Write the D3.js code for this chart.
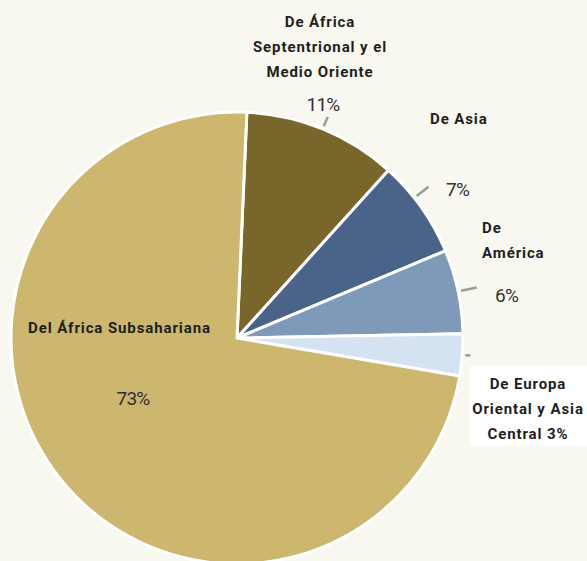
<!DOCTYPE html>
<meta charset="utf-8">
<head>
    <style>
        body {margin: 0; background: #f8f7f0;}
        svg {display: block;}
        .lbl {font-family: Roboto, "Liberation Sans", sans-serif; font-weight: bold; font-size: 15px; fill: #1e1e1e; letter-spacing: 0.9px;}
        .pct {font-family: Roboto, "Liberation Sans", sans-serif; font-weight: 400; font-size: 19px; fill: #303030; letter-spacing: -0.8px;}
        .lead {stroke: #9a9a9a; stroke-width: 2.5;}
    </style>
    <script src="https://d3js.org/d3.v7.min.js"></script>
</head>
<body>
<script>
    // data, clockwise from near the top
    var regions = ["De África Septentrional y el Medio Oriente", "De Asia", "De América", "De Europa Oriental y Asia Central", "Del África Subsahariana"];
    var shares = [11, 7, 6, 3, 73];
    var colors = ["#79662a", "#4a6489", "#7f99b8", "#d4e2f2", "#cdb76e"];

    var width = 587, height = 561,
        cx = 237, cy = 338, r = 226;

    var svg = d3.select("body").append("svg")
        .attr("width", width)
        .attr("height", height);

    var start = 2.5 * Math.PI / 180;
    var pie = d3.pie().sort(null).value(function(d) {return d})
        .startAngle(start).endAngle(start + 2 * Math.PI);
    var arcs = pie(shares);
    var arc = d3.arc().innerRadius(0).outerRadius(r);

    var g = svg.append("g").attr("transform", "translate(" + cx + "," + cy + ")");

    g.selectAll("path")
        .data(arcs)
      .enter().append("path")
        .attr("d", arc)
        .attr("fill", function(d, i) {return colors[i]})
        .attr("stroke", "#fff")
        .attr("stroke-width", 3)
        .attr("stroke-linejoin", "round");

    // leader lines for the small slices
    function pt(a, rad) {return [rad * Math.sin(a), -rad * Math.cos(a)]}
    var leadAngles = arcs.slice(0, 4).map(function(d, i) {
        var m = (d.startAngle + d.endAngle) / 2;
        if (i == 1) m -= 3 * Math.PI / 180;
        return m;
    });
    var leadLen = [10, 15, 16, 5];
    g.selectAll("line.lead")
        .data(leadAngles)
      .enter().append("line")
        .attr("class", "lead")
        .attr("x1", function(a) {return pt(a, r + 3)[0]})
        .attr("y1", function(a) {return pt(a, r + 3)[1]})
        .attr("x2", function(a, i) {return pt(a, r + 3 + leadLen[i])[0]})
        .attr("y2", function(a, i) {return pt(a, r + 3 + leadLen[i])[1]});

    // label blocks, placed next to the leader ends
    var labelLines = [
        ["De África", "Septentrional y el", "Medio Oriente"],
        ["De Asia"],
        ["De", "América"],
        ["De Europa", "Oriental y Asia", "Central " + shares[3] + "%"],
        ["Del África Subsahariana"]
    ];
    var labelPos = [[320, 27, "middle"], [430, 124, "start"], [482, 233, "start"], [528, 389, "middle"], [28, 333, "start"]];
    var pctPos = [[323, 111, "middle"], [446, 196, "start"], [495, 302, "start"], null, [133, 405, "middle"]];

    // white box behind the Europe label
    svg.append("rect")
        .attr("x", 470).attr("y", 366)
        .attr("width", 117).attr("height", 80)
        .attr("fill", "#fff");

    labelLines.forEach(function(lines, i) {
        var t = svg.append("text")
            .attr("class", "lbl")
            .attr("x", labelPos[i][0])
            .attr("y", labelPos[i][1])
            .attr("text-anchor", labelPos[i][2]);
        lines.forEach(function(s, j) {
            t.append("tspan")
                .attr("x", labelPos[i][0])
                .attr("dy", j ? 25 : 0)
                .text(s);
        });
        if (pctPos[i]) {
            svg.append("text")
                .attr("class", "pct")
                .attr("x", pctPos[i][0])
                .attr("y", pctPos[i][1])
                .attr("text-anchor", pctPos[i][2])
                .text(shares[i] + "%");
        }
    });
</script>
</body>
